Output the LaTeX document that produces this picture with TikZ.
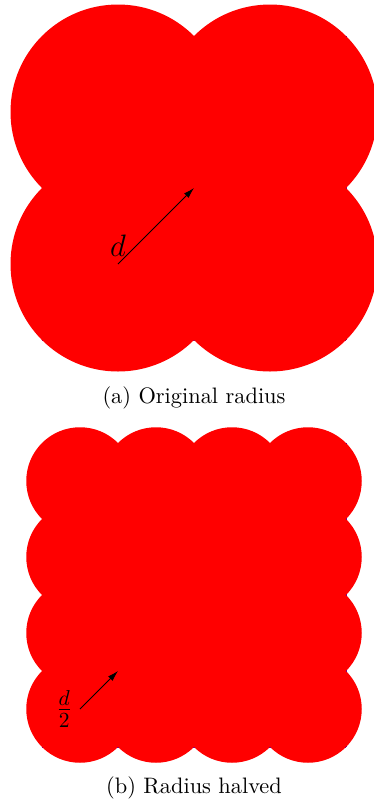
\documentclass[tikz,border=0pt]{standalone}
\usetikzlibrary{arrows.meta}
\begin{document}
\begin{tikzpicture}[x=0.465pt,y=-0.465pt,
  disk/.style={fill=red,draw=none},
  gridline/.style={draw=blue,line width=0.4pt},
  radiusarrow/.style={-{Latex[length=5pt,width=3pt]},line width=0.4pt,black},
  caption/.style={font=\fontsize{10.4}{12.5}\selectfont,inner sep=0pt}]
\useasboundingbox (0,0) rectangle (374,803);
% (a) grid
\foreach \v in {42,194,346} {
  \draw[gridline] (\v,36) -- (\v,340);
  \draw[gridline] (42,\v-6) -- (346,\v-6);
}
\foreach \cx in {118,270} \foreach \cy in {112,264}
  \fill[disk] (\cx,\cy) circle[radius=107.5];
\coordinate (ca) at (118,264);
\coordinate (ka) at (194,188);
\draw[radiusarrow] (ca) -- node[pos=0,above,font=\Large]{$d$} (ka);
\node[caption] (capa) at (194,398) {(a) Original radius};
% (b) grid
\foreach \v in {42,118,194,270,346} {
  \draw[gridline] (\v,443) -- (\v,747);
  \draw[gridline] (42,\v+401) -- (346,\v+401);
}
\foreach \cx in {80,156,232,308} \foreach \cy in {481,557,633,709}
  \fill[disk] (\cx,\cy) circle[radius=53.75];
\coordinate (cb) at (80,709);
\coordinate (kb) at (118,671);
\draw[radiusarrow] (cb) -- node[pos=0,left,font=\Large]{$\frac{d}{2}$} (kb);
\node[caption] (capb) at (194,788) {(b) Radius halved};
\end{tikzpicture}
\end{document}
